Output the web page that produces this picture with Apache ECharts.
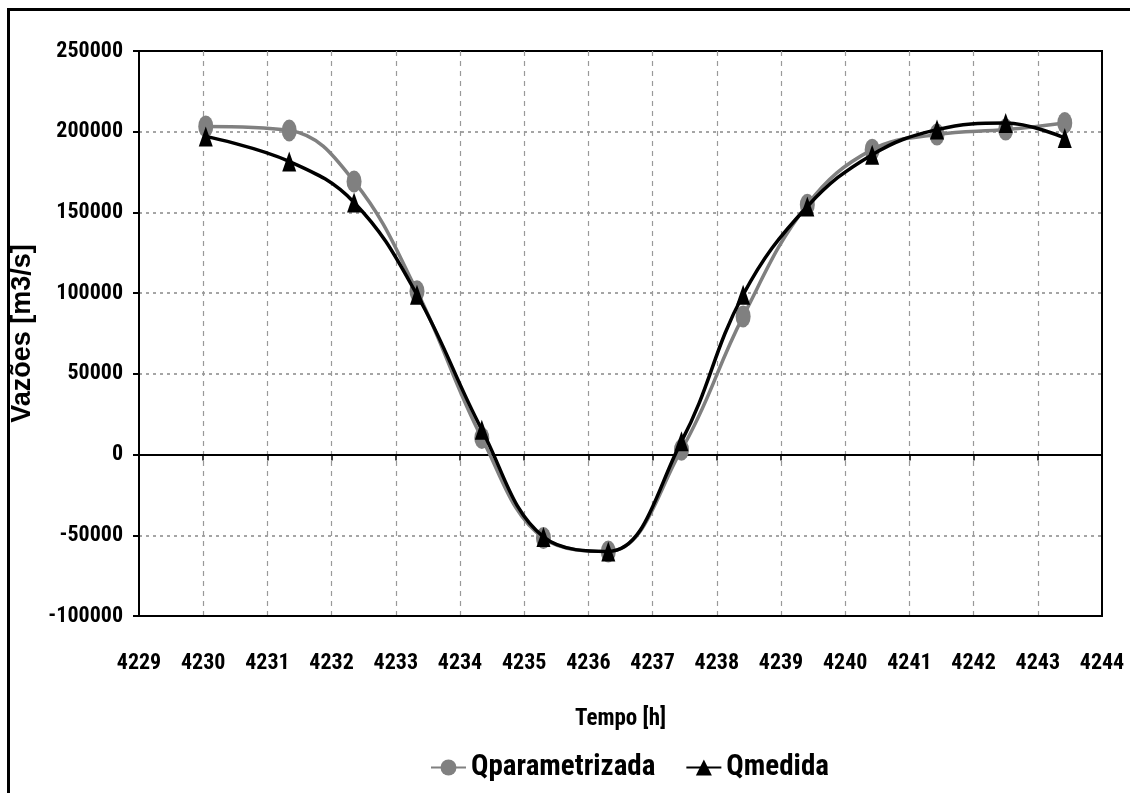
<!DOCTYPE html>
<html>
<head>
<meta charset="utf-8">
<script src="https://cdn.jsdelivr.net/npm/echarts@6/dist/echarts.min.js"></script>
<style>
html,body{margin:0;padding:0;background:#fff;overflow:hidden;}
#chart{width:1130px;height:793px;}
</style>
</head>
<body>
<div id="chart"></div>
<script>
// Data
const tempo = [4230.04, 4231.34, 4232.35, 4233.33, 4234.34, 4235.30, 4236.31, 4237.45, 4238.41, 4239.41, 4240.42, 4241.43, 4242.50, 4243.42];
const qParametrizada = [203300, 200800, 169200, 101100, 10300, -51700, -60000, 3000, 85600, 154800, 188900, 198200, 201300, 205400];
const qMedida = [197100, 181600, 156200, 99000, 15400, -51000, -60000, 8200, 99000, 153700, 185800, 201300, 205400, 196100];
const xTicks = {min: 4229, max: 4244, interval: 1};
const yTicks = {min: -100000, max: 250000, interval: 50000};
const seriesNames = ['Qparametrizada', 'Qmedida'];
const axisNames = {x: 'Tempo [h]', y: 'Vazões [m3/s]'};

const narrow = "'Roboto Condensed', 'Open Sans Condensed', 'Liberation Sans', sans-serif";
const wide = "'Liberation Sans', Arial, sans-serif";

const chart = echarts.init(document.getElementById('chart'), null, {renderer: 'canvas'});
const pairs = (ys) => tempo.map((t, i) => [t, ys[i]]);

chart.setOption({
  backgroundColor: '#fff',
  animation: false,
  graphic: [{
    type: 'rect', left: 6, top: 7, silent: true,
    shape: {width: 1140, height: 800},
    style: {fill: 'none', stroke: '#000', lineWidth: 3}
  }],
  grid: {left: 139, top: 51, right: 28, bottom: 177, containLabel: false, outerBoundsMode: 'none',
         show: true, borderColor: '#000', borderWidth: 2, backgroundColor: 'transparent'},
  legend: {
    left: 425, top: 748,
    itemWidth: 35, itemHeight: 20, itemGap: 30,
    textStyle: {fontFamily: narrow, fontWeight: 'bold', fontSize: 29, color: '#000'},
    data: seriesNames
  },
  xAxis: [{
    type: 'value', min: xTicks.min, max: xTicks.max, interval: xTicks.interval,
    position: 'bottom',
    name: axisNames.x, nameLocation: 'middle', nameGap: 92, nameMoveOverlap: false,
    nameTextStyle: {fontFamily: narrow, fontWeight: 'bold', fontSize: 23, color: '#000'},
    axisLine: {show: true, onZero: false, lineStyle: {color: '#000', width: 2}},
    axisTick: {show: false},
    axisLabel: {margin: 36, fontFamily: narrow, fontWeight: 'bold', fontSize: 22, color: '#000', formatter: v => String(v)},
    splitLine: {show: true, showMinLine: false, showMaxLine: false, lineStyle: {color: '#999', width: 1.2, type: [5, 5]}}
  }, {
    type: 'value', min: xTicks.min, max: xTicks.max, interval: xTicks.interval,
    position: 'bottom',
    axisLine: {show: true, onZero: true, lineStyle: {color: '#000', width: 1.8}},
    axisTick: {show: true, inside: false, length: 6, lineStyle: {color: '#000', width: 1.5}},
    axisLabel: {show: false},
    splitLine: {show: false}
  }],
  yAxis: {
    type: 'value', min: yTicks.min, max: yTicks.max, interval: yTicks.interval,
    name: axisNames.y, nameLocation: 'middle', nameGap: 103, nameRotate: 90, nameMoveOverlap: false,
    nameTextStyle: {fontFamily: wide, fontWeight: 'bold', fontSize: 27, color: '#000'},
    axisLine: {show: true, lineStyle: {color: '#000', width: 2}},
    axisTick: {show: true, inside: false, length: 6, lineStyle: {color: '#000', width: 2}},
    axisLabel: {margin: 16, fontFamily: narrow, fontWeight: 'bold', fontSize: 22, color: '#000', formatter: v => String(v)},
    splitLine: {show: true, showMinLine: false, showMaxLine: false, lineStyle: {color: '#888', width: 1.5, type: [3, 4]}}
  },
  series: [{
    name: seriesNames[0], type: 'line', xAxisIndex: 0,
    data: pairs(qParametrizada),
    smooth: 0.4,
    symbol: 'circle', symbolSize: [15, 22],
    lineStyle: {color: '#808080', width: 3.5},
    itemStyle: {color: '#808080'},
    z: 3
  }, {
    name: seriesNames[1], type: 'line', xAxisIndex: 0,
    data: pairs(qMedida),
    smooth: 0.4,
    symbol: 'triangle', symbolSize: [14, 20],
    lineStyle: {color: '#000', width: 3.5},
    itemStyle: {color: '#000'},
    z: 4
  }]
});
</script>
</body>
</html>
